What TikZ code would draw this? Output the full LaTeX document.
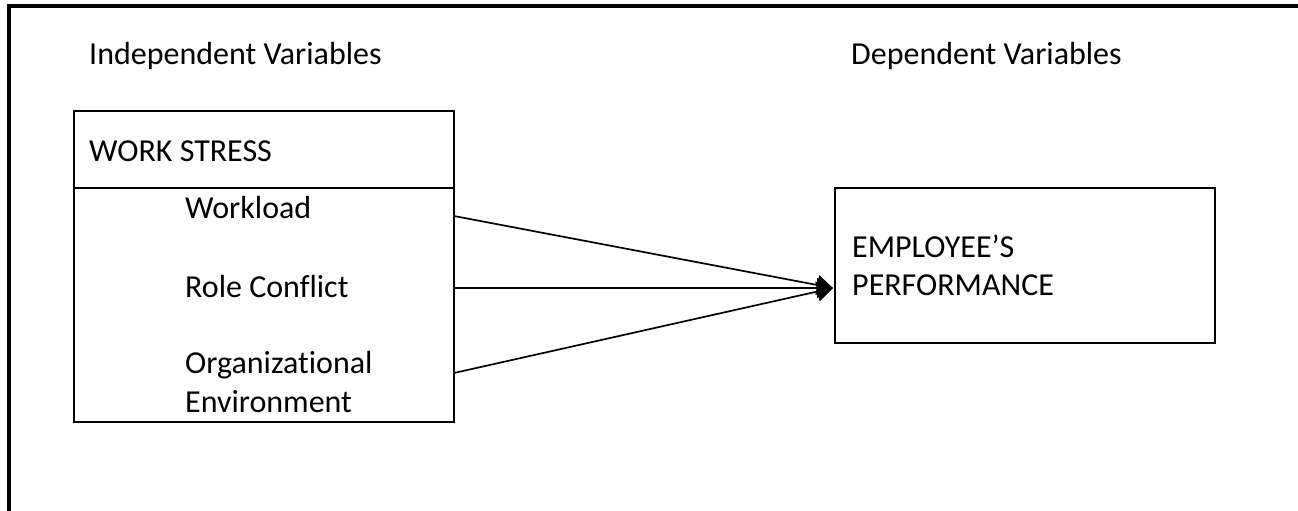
\documentclass[tikz,border=0pt]{standalone}
\usepackage{fontspec}
\setmainfont{Carlito}[Ligatures=NoCommon]
\usetikzlibrary{arrows.meta}
\begin{document}
\begin{tikzpicture}[x=1pt,y=-1pt,
  lbl/.style={anchor=base west,inner sep=0pt,font=\fontsize{32}{38}\selectfont},
  boxline/.style={line width=2.8pt},
  conn/.style={line width=1.7pt},
  frame/.style={line width=3.2pt}]
\useasboundingbox (0,0) rectangle (1298,511);
% outer frame (open on right and bottom)
\draw[frame] (9,511) -- (9,6) -- (1298,6);
% headers
\node[lbl] (indep) at (89,64) {Independent Variables};
\node[lbl] (dep) at (851,64) {Dependent Variables};
% work stress box
\draw[boxline] (74,111) rectangle (454,422);
\draw[boxline] (74,188) -- (454,188);
\node[lbl] (ws) at (89,161) {WORK STRESS};
\node[lbl] (wl) at (185,218) {Workload};
\node[lbl] (rc) at (185,297) {Role Conflict};
\node[lbl] (oe1) at (185,373) {Organizational};
\node[lbl] (oe2) at (185,412) {Environment};
% employee box
\draw[boxline] (835,188) rectangle (1215,343);
\node[lbl] (ep1) at (852,257) {EMPLOYEE’S};
\node[lbl] (ep2) at (852,295) {PERFORMANCE};
% connectors
\coordinate (a1) at (454,216);
\coordinate (a2) at (454,288);
\coordinate (a3) at (454,373);
\coordinate (tip) at (833,288);
\draw[conn,-{Triangle[length=16pt,width=20pt]}] (a1) -- (tip);
\draw[conn,-{Triangle[length=16pt,width=20pt]}] (a2) -- (tip);
\draw[conn,-{Triangle[length=16pt,width=20pt]}] (a3) -- (tip);
\end{tikzpicture}
\end{document}
